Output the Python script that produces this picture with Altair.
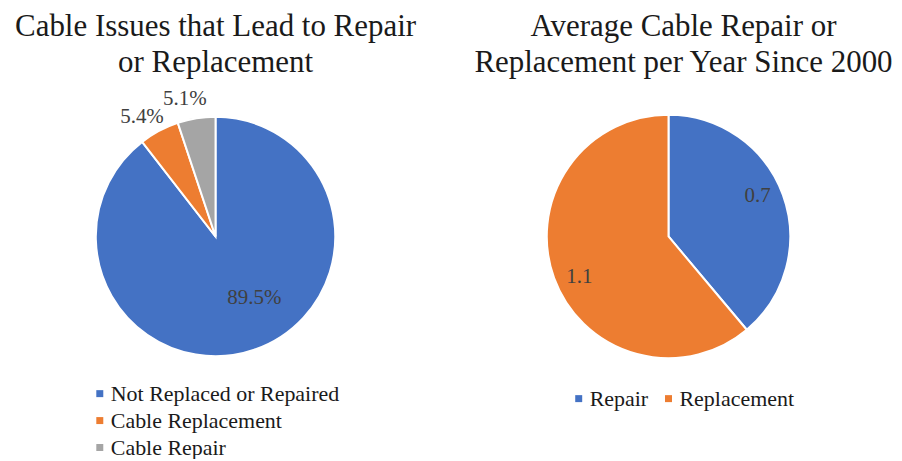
import altair as alt
import pandas as pd

FONT = "Liberation Serif"

left_title = ["Cable Issues that Lead to Repair", "or Replacement"]
left_categories = ["Not Replaced or Repaired", "Cable Replacement", "Cable Repair"]
left_values = [89.5, 5.4, 5.1]
left_labels = ["89.5%", "5.4%", "5.1%"]
left_colors = ["#4472C4", "#ED7D31", "#A5A5A5"]

right_title = ["Average Cable Repair or", "Replacement per Year Since 2000"]
right_categories = ["Repair", "Replacement"]
right_values = [0.7, 1.1]
right_labels = ["0.7", "1.1"]
right_colors = ["#4472C4", "#ED7D31"]

left_df = pd.DataFrame({"category": left_categories, "value": left_values,
                        "label": left_labels, "order": list(range(len(left_values)))})
right_df = pd.DataFrame({"category": right_categories, "value": right_values,
                         "label": right_labels, "order": list(range(len(right_values)))})

W_L, W_R, H = 416, 448, 307


def legend(x, y, horizontal):
    kw = dict(orient="none", legendX=x, legendY=y, title=None,
              symbolType="square", symbolSize=49, symbolStrokeWidth=0,
              labelFont=FONT, labelFontSize=22, labelColor="#1a1a1a",
              labelOffset=0, labelLimit=0, rowPadding=5)
    if horizontal:
        kw.update(direction="horizontal", columnPadding=9)
    else:
        kw.update(direction="vertical", columns=1)
    return alt.Legend(**kw)


def pie(df, cats, colors, radius, title, title_dx, leg, inner_r, inner_off, outer_r, outer_off, inner_pred):
    base = alt.Chart(df).encode(
        theta=alt.Theta("value:Q", stack=True),
        order=alt.Order("order:Q"),
    )
    arcs = base.mark_arc(outerRadius=radius, stroke="white", strokeWidth=2).encode(
        color=alt.Color("category:N", sort=cats,
                        scale=alt.Scale(domain=cats, range=colors), legend=leg)
    )
    t_in = base.mark_text(radius=inner_r, thetaOffset=inner_off, font=FONT,
                          fontSize=21, color="#404040").encode(
        text=alt.condition(inner_pred, "label:N", alt.value(""))
    )
    t_out = base.mark_text(radius=outer_r, thetaOffset=outer_off, font=FONT,
                           fontSize=21, color="#404040").encode(
        text=alt.condition("!(" + inner_pred + ")", "label:N", alt.value(""))
    )
    return alt.layer(arcs, t_in, t_out).properties(
        title=alt.TitleParams(text=title, font=FONT, fontSize=31, fontWeight="normal",
                              lineHeight=36, color="#1a1a1a", anchor="middle", dx=title_dx),
    )


left = pie(left_df, left_categories, left_colors, 120, left_title, 0,
           legend(81, 300, False), 73, -0.232, 141, -0.06, "datum.order == 0")
left = left.properties(width=W_L, height=H)

right = pie(right_df, right_categories, right_colors, 122, right_title, 15,
            legend(123, 305, True), 98, -0.075, 98, -0.075, "datum.order == 0")
right = right.properties(width=W_R, height=H)

chart = alt.hconcat(left, right, spacing=22).resolve_scale(color="independent").configure(
    padding={"left": 0, "right": 0, "top": 3, "bottom": 0}
).configure_view(stroke=None)

chart.save("out.html", embed_options={"renderer": "svg", "actions": False})
